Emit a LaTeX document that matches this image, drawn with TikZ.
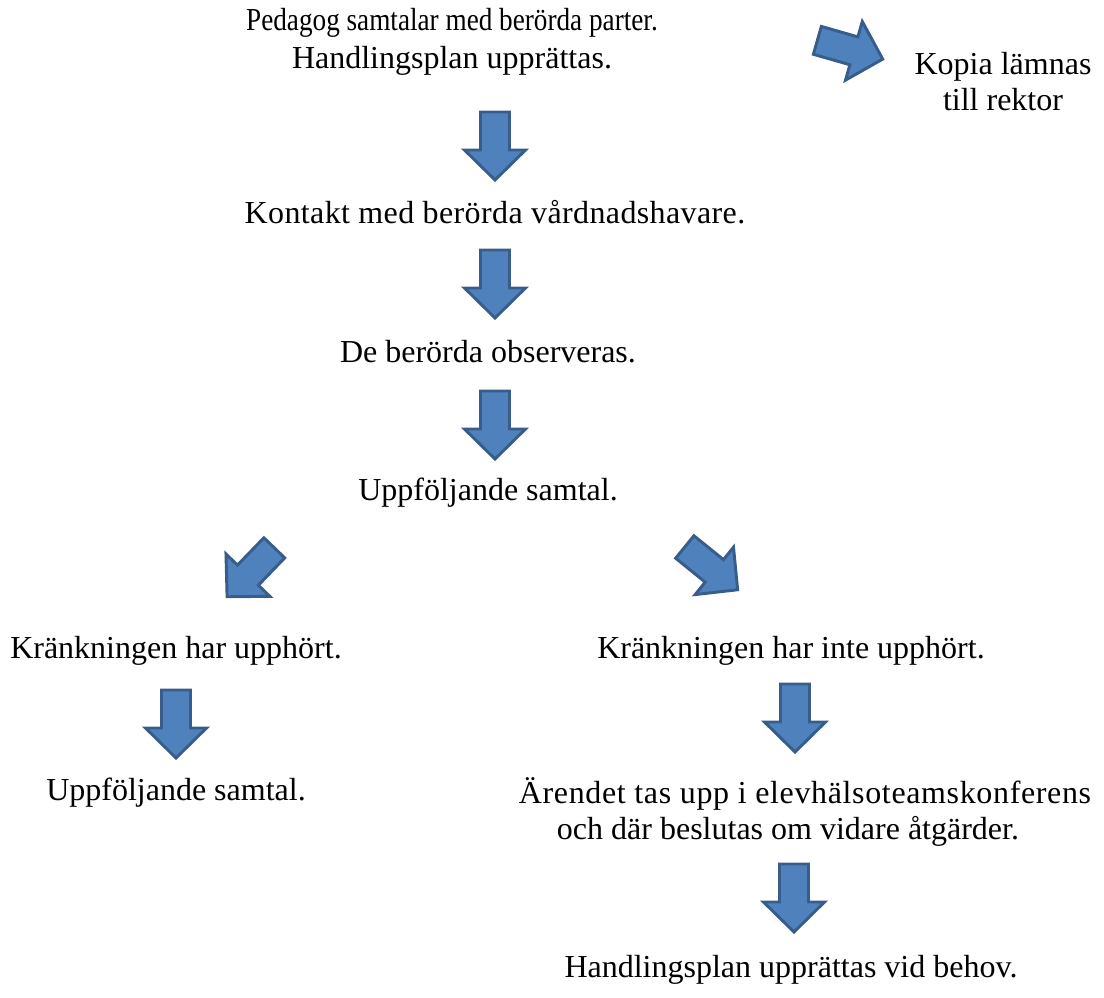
\documentclass[tikz,border=0pt]{standalone}
\usepackage{fontspec}
\setmainfont{Liberation Serif}
\usepackage{tikz}
\usetikzlibrary{positioning}
\definecolor{arBlue}{RGB}{79,129,189}
\definecolor{arEdge}{RGB}{56,93,138}
\newcommand{\spaced}[2]{{\addfontfeature{LetterSpace=#1}#2}}
\newcommand{\narrow}[2]{{\addfontfeature{FakeStretch=#1}#2}}
\tikzset{
    base/.style={font=\fontsize{24}{27}\selectfont, align=center, inner sep=0pt},
    step text/.style={base},
    arrowline/.style={draw=arEdge, fill=arBlue, line width=2.2pt, line join=miter},
    blockarrow/.pic={
        \draw[arrowline] (-35,-14.5) -- (3,-14.5) -- (3,-30.5) -- (33,0)
                         -- (3,30.5) -- (3,14.5) -- (-35,14.5) -- cycle;
    }
}
\begin{document}
\begin{tikzpicture}[x=0.75pt, y=0.75pt]
  \useasboundingbox (0,0) rectangle (1104,-997);

  % Top row
  \node[step text] (plan) at (452,-42) {\narrow{0.85}{Pedagog samtalar med berörda parter.}\\[1.5pt]Handlingsplan upprättas.};
  \node[step text] (kopia) at (1003,-82) {Kopia lämnas\\till rektor};

  % Main column
  \node[step text] (kontakt) at (495,-212) {\spaced{1.2}{Kontakt med berörda vårdnadshavare.}};
  \node[step text] (observ) at (488,-352) {De berörda observeras.};
  \node[step text] (uppf) at (488,-493) {Uppföljande samtal.};

  % Left branch
  \node[step text] (upphort) at (176,-651) {Kränkningen har upphört.};
  \node[step text] (uppf2) at (176,-793) {Uppföljande samtal.};

  % Right branch
  \node[step text] (inte) at (791,-651) {Kränkningen har inte upphört.};
  \node[step text] (arende) at (805,-812) {\spaced{2}{Ärendet tas upp i elevhälsoteamskonferens}\\och där beslutas om vidare åtgärder.\hspace*{25.5pt}};
  \node[step text] (behov) at (791,-970) {Handlingsplan upprättas vid behov.};

  % Block arrows
  \pic[rotate=-16] (a0) at (851,-50) {blockarrow};
  \pic[rotate=-90] (a1) at (495,-147) {blockarrow};
  \pic[rotate=-90] (a2) at (495,-285) {blockarrow};
  \pic[rotate=-90] (a3) at (495,-426) {blockarrow};
  \pic[rotate=-134] (a4) at (250,-573) {blockarrow};
  \pic[rotate=-39] (a5) at (712,-569) {blockarrow};
  \pic[rotate=-90] (a6) at (176,-725) {blockarrow};
  \pic[rotate=-90] (a7) at (795,-719) {blockarrow};
  \pic[rotate=-90] (a8) at (794,-899) {blockarrow};
\end{tikzpicture}
\end{document}
